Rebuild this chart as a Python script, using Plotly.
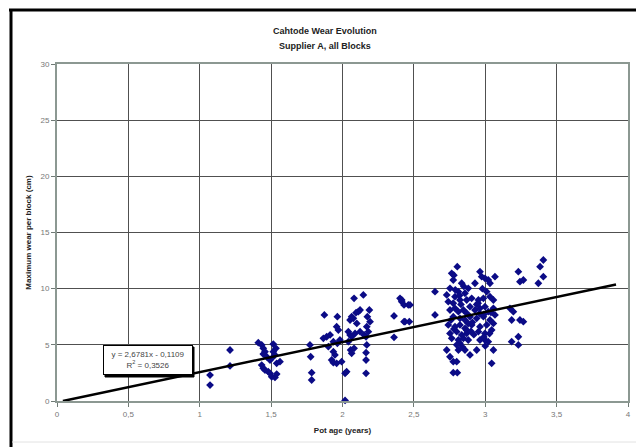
import plotly.graph_objects as go

# ---- data ----
pot_age = [
    1.072, 1.072, 1.212, 1.212,
    1.410, 1.434, 1.445, 1.457, 1.445, 1.469, 1.492, 1.515, 1.534, 1.515, 1.527, 1.504,
    1.539, 1.434, 1.445, 1.457, 1.480, 1.492, 1.504, 1.527, 1.539, 1.562,
    1.772, 1.777, 1.784, 1.784, 1.873, 1.866, 1.889, 1.913, 1.901, 1.936, 1.936, 1.947,
    1.924, 1.936, 1.964, 1.959, 1.971, 1.964, 1.982, 1.959, 1.994, 2.018, 2.029, 2.018,
    2.053, 2.064, 2.076, 2.081, 2.111, 2.123, 2.095, 2.041, 2.053, 2.064, 2.041, 2.088,
    2.123, 2.100, 2.057, 2.081, 2.064, 2.146, 2.151, 2.165, 2.170, 2.174, 2.188, 2.193,
    2.181, 2.170, 2.165, 2.165, 2.165, 2.361, 2.361, 2.403, 2.415, 2.431, 2.461, 2.431,
    2.468, 2.415, 2.473, 2.438,
    2.648, 2.648, 2.765, 2.780, 2.804, 2.776, 2.753, 2.835, 2.730, 2.788, 2.812, 2.858,
    2.881, 2.928, 2.963, 2.975, 2.998, 3.021, 3.068, 3.033, 3.010, 2.741, 2.776, 2.823,
    2.870, 2.905, 2.952, 2.987, 3.033, 3.057, 2.753, 2.788, 2.812, 2.847, 2.870, 2.893,
    2.928, 2.963, 2.998, 3.021, 3.057, 3.068, 2.776, 2.823, 2.858, 2.893, 2.940, 2.987,
    3.033, 2.741, 2.788, 2.823, 2.858, 2.905, 2.963, 3.010, 3.057, 2.753, 2.800, 2.835,
    2.870, 2.952, 2.998, 3.045, 2.765, 2.812, 2.847, 2.881, 2.963, 2.998, 3.021, 2.823,
    2.730, 2.812, 2.858, 2.940, 3.057, 2.753, 2.893, 2.776, 2.800, 3.045, 2.776, 2.804,
    2.790, 2.830, 2.870, 2.910, 2.950, 2.990, 3.030, 2.800, 2.840, 2.880, 2.920, 2.960,
    3.000, 2.760, 2.850, 2.900, 2.980, 3.040, 2.780, 2.820, 2.940, 2.990,
    3.173, 3.197, 3.185, 3.243, 3.267, 3.232, 3.243, 3.267, 3.232, 3.185, 3.232,
    3.384, 3.407, 3.407, 3.372,
]
max_wear = [
    2.31, 1.42, 4.54, 3.12,
    5.19, 4.99, 4.69, 4.39, 4.18, 3.94, 3.65, 5.07, 4.69, 4.39, 4.10, 3.80,
    3.35, 3.20, 2.91, 2.76, 2.61, 2.46, 2.16, 2.10, 2.40, 3.50,
    4.99, 3.94, 2.52, 1.87, 7.66, 5.58, 5.72, 5.88, 4.84, 5.28, 4.39, 4.10,
    3.65, 3.41, 7.51, 6.62, 6.32, 5.13, 5.43, 3.35, 3.50, 2.46, 2.61, 0.05,
    7.21, 7.51, 7.36, 9.14, 7.95, 8.10, 7.86, 6.17, 5.88, 5.72, 5.28, 6.02,
    6.17, 6.91, 4.54, 4.69, 4.24, 9.44, 5.88, 5.72, 6.62, 7.51, 8.10, 7.06,
    6.17, 4.99, 4.30, 3.65, 2.46, 7.57, 5.67, 9.14, 8.84, 8.55, 8.55, 7.06,
    7.06, 8.99, 8.55, 7.06,
    9.73, 7.66, 11.37, 11.20, 11.96, 10.77, 10.03, 10.48, 9.44, 9.29, 9.73, 9.59,
    10.03, 10.48, 11.51, 11.07, 10.92, 10.77, 11.07, 10.48, 9.73, 8.84, 8.70, 8.99,
    8.99, 9.14, 8.99, 9.14, 9.29, 8.99, 8.10, 8.25, 7.95, 8.10, 7.81, 8.40,
    8.10, 8.25, 8.40, 7.95, 8.25, 7.66, 7.51, 7.36, 7.21, 7.51, 7.36, 7.51,
    7.21, 6.77, 6.62, 6.77, 6.47, 6.77, 6.62, 6.77, 6.91, 6.02, 6.17, 5.88,
    6.02, 6.17, 6.02, 6.32, 5.58, 5.43, 5.58, 5.43, 5.43, 5.43, 5.28, 5.13,
    4.54, 4.54, 4.54, 4.54, 4.54, 3.94, 4.10, 3.50, 3.50, 3.35, 2.52, 2.52,
    9.90, 8.60, 6.30, 7.00, 8.70, 7.70, 6.00, 5.00, 4.80, 6.90, 5.90, 7.80,
    4.90, 7.20, 10.20, 6.20, 10.00, 7.90, 6.40, 9.40, 8.60, 5.70,
    8.25, 7.95, 7.21, 7.21, 7.06, 11.51, 10.62, 10.77, 5.72, 5.28, 4.99,
    11.96, 12.55, 11.07, 10.48,
]
trend_slope = 2.6781
trend_intercept = -0.1109
trend_x = [0.0414, 3.916]
trend_label = "y = 2,6781x - 0,1109<br>R<sup>2</sup> = 0,3526"

x_ticks = [0, 0.5, 1, 1.5, 2, 2.5, 3, 3.5, 4]
x_tick_text = ["0", "0,5", "1", "1,5", "2", "2,5", "3", "3,5", "4"]
y_ticks = [0, 5, 10, 15, 20, 25, 30]

title_lines = ["Cahtode Wear Evolution", "Supplier A, all Blocks"]
x_title = "Pot age (years)"
y_title = "Maximum wear per block (cm)"

# ---- layout geometry (page pixels; the page body adds an 8px offset) ----
OFF = 8
W, H = 644 - OFF, 447 - OFF
L, R, T, B = 57, 628, 64, 401   # plot area in page pixels


def px(xp):
    return (xp - L) / (R - L)


def py(yp):
    return (B - yp) / (B - T)


FONT = "Liberation Sans, Arial, sans-serif"

fig = go.Figure()

fig.add_trace(go.Scatter(
    x=pot_age, y=max_wear, mode="markers",
    marker=dict(symbol="diamond", size=6, color="#0b0b86",
                line=dict(width=0)),
    cliponaxis=False, showlegend=False, hoverinfo="x+y",
))

trend_y = [trend_slope * v + trend_intercept for v in trend_x]
fig.add_trace(go.Scatter(
    x=trend_x, y=trend_y, mode="lines",
    line=dict(color="black", width=2.5),
    showlegend=False, hoverinfo="skip",
))

axis_common = dict(
    showgrid=True, gridcolor="#505050", gridwidth=1,
    showline=True, linecolor="#8c9892", linewidth=2, mirror=True,
    zeroline=False,
    ticks="outside", ticklen=4, tickcolor="#6f7a75", tickwidth=1,
    tickfont=dict(family=FONT, size=8, color="#777777"),
)

fig.update_xaxes(range=[0, 4], tickvals=x_ticks, ticktext=x_tick_text,
                 title=dict(text=f"<b>{x_title}</b>", standoff=10,
                            font=dict(family=FONT, size=8, color="#222222")),
                 **axis_common)
fig.update_yaxes(range=[0, 30], tickvals=y_ticks,
                 title=dict(text=f"<b>{y_title}</b>", standoff=8,
                            font=dict(family=FONT, size=8, color="#222222")),
                 **axis_common)

shapes = [
    # chart frame
    dict(type="line", xref="paper", yref="paper", x0=px(9), x1=px(644), y0=py(10), y1=py(10),
         line=dict(color="black", width=3)),
    dict(type="line", xref="paper", yref="paper", x0=px(11), x1=px(11), y0=py(9), y1=py(447),
         line=dict(color="black", width=3)),
    dict(type="line", xref="paper", yref="paper", x0=px(638), x1=px(638), y0=py(12), y1=py(442),
         line=dict(color="#e2e2e2", width=1)),
    dict(type="line", xref="paper", yref="paper", x0=px(12), x1=px(638), y0=py(442), y1=py(442),
         line=dict(color="#e2e2e2", width=1)),
    # shadow of the equation box
    dict(type="rect", xref="paper", yref="paper", x0=px(105), x1=px(194), y0=py(377), y1=py(347),
         line=dict(color="black", width=1), fillcolor="black", layer="above"),
]

annotations = [
    dict(text=f"<b>{title_lines[0]}</b>", xref="paper", yref="paper",
         x=px(325), y=py(31), xanchor="center", yanchor="middle", showarrow=False,
         font=dict(family=FONT, size=9, color="#222222")),
    dict(text=f"<b>{title_lines[1]}</b>", xref="paper", yref="paper",
         x=px(325), y=py(46), xanchor="center", yanchor="middle", showarrow=False,
         font=dict(family=FONT, size=9, color="#222222")),
    dict(text=trend_label, xref="paper", yref="paper",
         x=px(147.5), y=py(360), xanchor="center", yanchor="middle", showarrow=False,
         font=dict(family=FONT, size=8, color="#444444"),
         bgcolor="white", bordercolor="black", borderwidth=1, borderpad=1,
         width=86, height=26),
]

fig.update_layout(
    width=W, height=H,
    margin=dict(l=L - OFF, r=W - (R - OFF), t=T - OFF, b=H - (B - OFF)),
    paper_bgcolor="white", plot_bgcolor="white",
    shapes=shapes, annotations=annotations,
    showlegend=False,
)

fig.write_html("out.html")
